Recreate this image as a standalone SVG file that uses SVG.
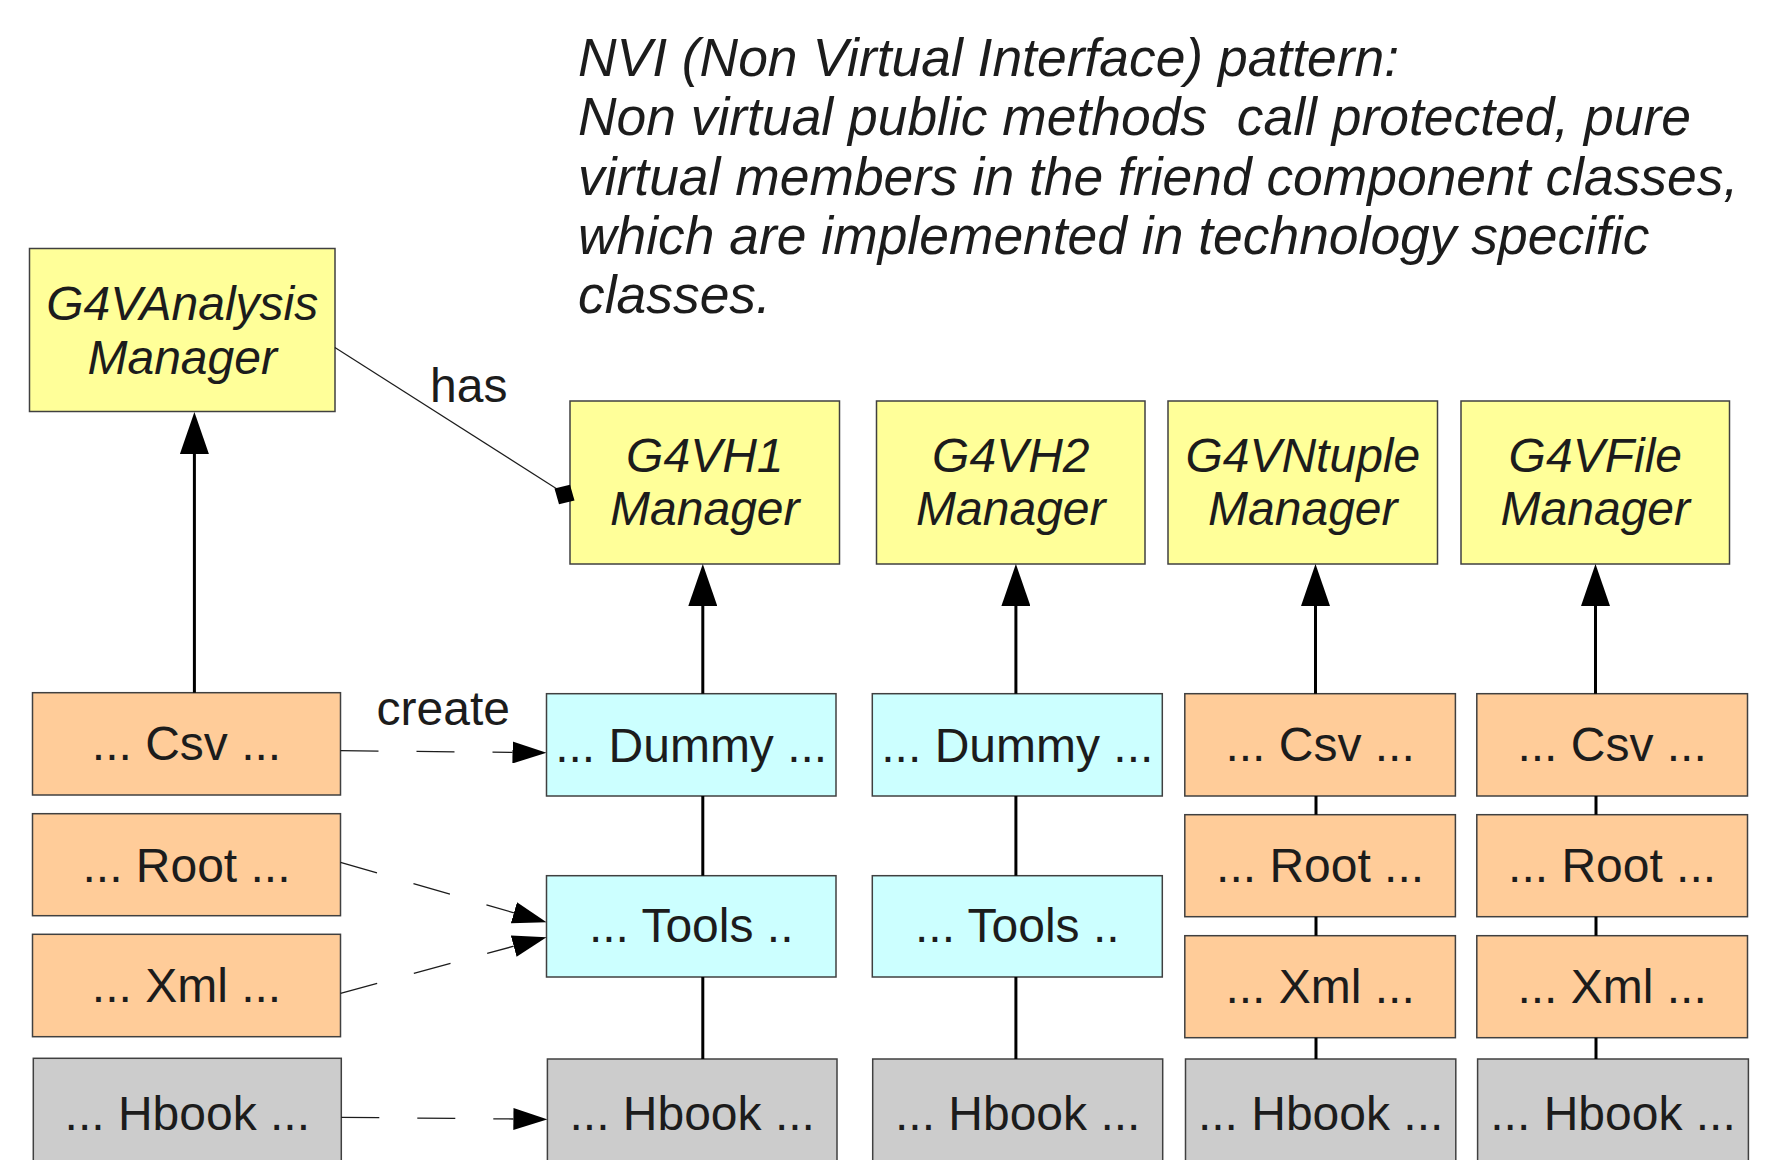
<svg xmlns="http://www.w3.org/2000/svg" width="1779" height="1160" viewBox="0 0 1779 1160">
<style>
  text { font-family: "Liberation Sans", Arial, sans-serif; fill: #1c1c1c; }
  .lbl { font-size: 48px; text-anchor: middle; }
  .it { font-style: italic; }
  .note { font-size: 53.4px; font-style: italic; }
  .edge { font-size: 48px; }
  .box { stroke: #404040; stroke-width: 1.5; }
  .mgr { fill: #ffff99; }
  .tech { fill: #ffcc99; }
  .dummy { fill: #ccffff; }
  .hbook { fill: #cccccc; }
  .solid { stroke: #000; stroke-width: 3; fill: none; }
  .dash { stroke: #1c1c1c; stroke-width: 1.3; fill: none; stroke-dasharray: 38 38; }
  .thin { stroke: #1c1c1c; stroke-width: 1.2; fill: none; }
</style>
<defs>
  <marker id="tri" markerUnits="userSpaceOnUse" markerWidth="42" markerHeight="29" viewBox="0 0 42 29" refX="0" refY="14.5" orient="auto">
    <path d="M0,0 L42,14.5 L0,29 z" fill="#000"/>
  </marker>
  <marker id="dtri" markerUnits="userSpaceOnUse" markerWidth="34" markerHeight="22" viewBox="0 0 34 22" refX="0" refY="11" orient="auto">
    <path d="M0,0 L34,11 L0,22 z" fill="#000"/>
  </marker>
</defs>
<rect width="1779" height="1160" fill="#fff"/>

<g id="note">
  <text class="note" x="578" y="76">NVI (Non Virtual Interface) pattern:</text>
  <text class="note" x="578" y="135" xml:space="preserve">Non virtual public methods  call protected, pure</text>
  <text class="note" x="578" y="195">virtual members in the friend component classes,</text>
  <text class="note" x="578" y="254">which are implemented in technology specific</text>
  <text class="note" x="578" y="313">classes.</text>
</g>

<g id="nodes">
  <g id="G4VAnalysisManager">
    <rect class="box mgr" x="29.5" y="248.5" width="305.5" height="163"/>
    <text class="lbl it" x="182.2" y="320">G4VAnalysis</text>
    <text class="lbl it" x="182.2" y="374">Manager</text>
  </g>
  <g id="G4VH1Manager">
    <rect class="box mgr" x="570" y="401" width="269.5" height="163"/>
    <text class="lbl it" x="704.8" y="472">G4VH1</text>
    <text class="lbl it" x="704.8" y="525">Manager</text>
  </g>
  <g id="G4VH2Manager">
    <rect class="box mgr" x="876.5" y="401" width="268.5" height="163"/>
    <text class="lbl it" x="1010.8" y="472">G4VH2</text>
    <text class="lbl it" x="1010.8" y="525">Manager</text>
  </g>
  <g id="G4VNtupleManager">
    <rect class="box mgr" x="1168" y="401" width="269.5" height="163"/>
    <text class="lbl it" x="1302.8" y="472">G4VNtuple</text>
    <text class="lbl it" x="1302.8" y="525">Manager</text>
  </g>
  <g id="G4VFileManager">
    <rect class="box mgr" x="1461" y="401" width="268.5" height="163"/>
    <text class="lbl it" x="1595.3" y="472">G4VFile</text>
    <text class="lbl it" x="1595.3" y="525">Manager</text>
  </g>

  <!-- left column -->
  <g id="CsvAnalysisManager">
    <rect class="box tech" x="32.5" y="692.7" width="308" height="102.3"/>
    <text class="lbl" x="186.5" y="760">... Csv ...</text>
  </g>
  <g id="RootAnalysisManager">
    <rect class="box tech" x="32.5" y="813.7" width="308" height="102"/>
    <text class="lbl" x="186.5" y="881.5">... Root ...</text>
  </g>
  <g id="XmlAnalysisManager">
    <rect class="box tech" x="32.5" y="934.3" width="308" height="102.4"/>
    <text class="lbl" x="186.5" y="1001.7">... Xml ...</text>
  </g>
  <g id="HbookAnalysisManager">
    <rect class="box hbook" x="33.3" y="1058.3" width="308" height="120"/>
    <text class="lbl" x="187.3" y="1129.5">... Hbook ...</text>
  </g>

  <!-- H1 column -->
  <g id="DummyH1">
    <rect class="box dummy" x="546.5" y="693.7" width="289.5" height="102.3"/>
    <text class="lbl" x="691.2" y="761.5">... Dummy ...</text>
  </g>
  <g id="ToolsH1">
    <rect class="box dummy" x="546.5" y="875.7" width="289.5" height="101.3"/>
    <text class="lbl" x="691.2" y="941.7">... Tools ..</text>
  </g>
  <g id="HbookH1">
    <rect class="box hbook" x="547.4" y="1059" width="289.6" height="120"/>
    <text class="lbl" x="692.2" y="1129.5">... Hbook ...</text>
  </g>

  <!-- H2 column -->
  <g id="DummyH2">
    <rect class="box dummy" x="872.3" y="693.7" width="290" height="102.3"/>
    <text class="lbl" x="1017.3" y="761.5">... Dummy ...</text>
  </g>
  <g id="ToolsH2">
    <rect class="box dummy" x="872.3" y="875.7" width="290" height="101.3"/>
    <text class="lbl" x="1017.3" y="941.7">... Tools ..</text>
  </g>
  <g id="HbookH2">
    <rect class="box hbook" x="872.7" y="1059" width="290" height="120"/>
    <text class="lbl" x="1017.7" y="1129.5">... Hbook ...</text>
  </g>

  <!-- Ntuple column -->
  <g id="CsvNtuple">
    <rect class="box tech" x="1184.8" y="693.7" width="270.6" height="102.3"/>
    <text class="lbl" x="1320.1" y="760.7">... Csv ...</text>
  </g>
  <g id="RootNtuple">
    <rect class="box tech" x="1184.8" y="814.7" width="270.6" height="102"/>
    <text class="lbl" x="1320.1" y="881.7">... Root ...</text>
  </g>
  <g id="XmlNtuple">
    <rect class="box tech" x="1184.8" y="935.7" width="270.6" height="102"/>
    <text class="lbl" x="1320.1" y="1002.7">... Xml ...</text>
  </g>
  <g id="HbookNtuple">
    <rect class="box hbook" x="1185.5" y="1059" width="270.3" height="120"/>
    <text class="lbl" x="1320.6" y="1129.5">... Hbook ...</text>
  </g>

  <!-- File column -->
  <g id="CsvFile">
    <rect class="box tech" x="1476.8" y="693.7" width="270.7" height="102.3"/>
    <text class="lbl" x="1612.1" y="760.7">... Csv ...</text>
  </g>
  <g id="RootFile">
    <rect class="box tech" x="1476.8" y="814.7" width="270.7" height="102"/>
    <text class="lbl" x="1612.1" y="881.7">... Root ...</text>
  </g>
  <g id="XmlFile">
    <rect class="box tech" x="1476.8" y="935.7" width="270.7" height="102"/>
    <text class="lbl" x="1612.1" y="1002.7">... Xml ...</text>
  </g>
  <g id="HbookFile">
    <rect class="box hbook" x="1477.6" y="1059" width="270.8" height="120"/>
    <text class="lbl" x="1613" y="1129.5">... Hbook ...</text>
  </g>
</g>

<g id="connectors">
  <!-- inheritance arrows -->
  <line class="solid" x1="194.4" y1="692.7" x2="194.4" y2="454" marker-end="url(#tri)"/>
  <line class="solid" x1="702.8" y1="693.7" x2="702.8" y2="606" marker-end="url(#tri)"/>
  <line class="solid" x1="1015.9" y1="693.7" x2="1015.9" y2="606" marker-end="url(#tri)"/>
  <line class="solid" x1="1315.5" y1="693.7" x2="1315.5" y2="606" marker-end="url(#tri)"/>
  <line class="solid" x1="1595.5" y1="693.7" x2="1595.5" y2="606" marker-end="url(#tri)"/>
  <!-- stacked links -->
  <line class="solid" x1="702.8" y1="796" x2="702.8" y2="875.7"/>
  <line class="solid" x1="702.8" y1="977" x2="702.8" y2="1059"/>
  <line class="solid" x1="1015.9" y1="796" x2="1015.9" y2="875.7"/>
  <line class="solid" x1="1015.9" y1="977" x2="1015.9" y2="1059"/>
  <line class="solid" x1="1316" y1="796" x2="1316" y2="814.7"/>
  <line class="solid" x1="1316" y1="916.7" x2="1316" y2="935.7"/>
  <line class="solid" x1="1316" y1="1037.7" x2="1316" y2="1059"/>
  <line class="solid" x1="1596" y1="796" x2="1596" y2="814.7"/>
  <line class="solid" x1="1596" y1="916.7" x2="1596" y2="935.7"/>
  <line class="solid" x1="1596" y1="1037.7" x2="1596" y2="1059"/>
  <!-- create (dashed) -->
  <line class="dash" x1="340.5" y1="750.7" x2="512.5" y2="752.4" marker-end="url(#dtri)"/>
  <line class="dash" x1="340.5" y1="862.3" x2="513.9" y2="912.8" marker-end="url(#dtri)"/>
  <line class="dash" x1="340.5" y1="993.3" x2="513.7" y2="946.2" marker-end="url(#dtri)"/>
  <line class="dash" x1="341.3" y1="1117.3" x2="513.4" y2="1119" marker-end="url(#dtri)"/>
  <text class="edge" x="376.5" y="725">create</text>
  <!-- has -->
  <line class="thin" x1="334.9" y1="347.5" x2="557" y2="489"/>
  <polygon points="554.5,488.5 570,484.7 574.5,500.5 559,504.3" fill="#000"/>
  <text class="edge" x="430" y="402">has</text>
</g>
</svg>
